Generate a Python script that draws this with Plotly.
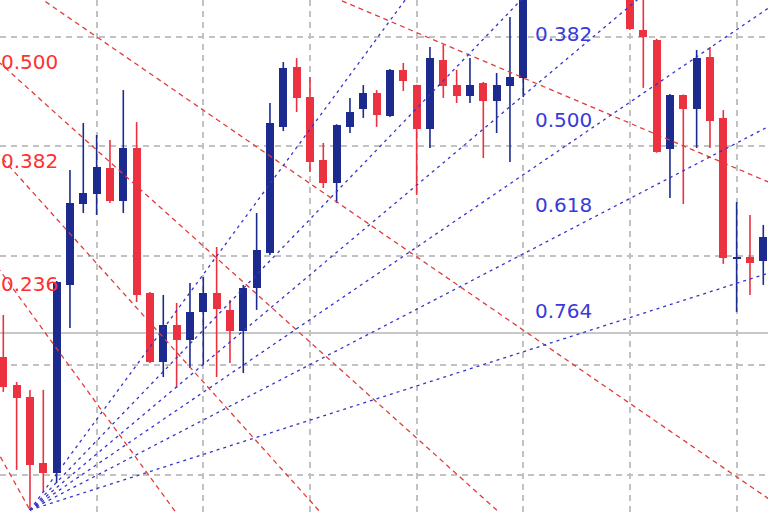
import plotly.graph_objects as go

# ---- candle data (bar index, OHLC) ----
bar_index = list(range(58))
opens = [1.09038, 1.08911, 1.08856, 1.08555, 1.08509, 1.09367, 1.09736, 1.09782, 1.09901, 1.09750,
         1.09992, 1.09330, 1.09016, 1.09184, 1.09116, 1.09244, 1.09330, 1.09253, 1.09157, 1.09353,
         1.09513, 1.10088, 1.10361, 1.10224, 1.09937, 1.09832, 1.10088, 1.10170, 1.10243, 1.10138,
         1.10348, 1.10279, 1.10079, 1.10393, 1.10279, 1.10229, 1.10288, 1.10206, 1.10275, 1.10311,
         1.10941, 1.11150, 1.11420, 1.11380, 1.11200, 1.11280, 1.11020, 1.10850, 1.10530, 1.10485,
         1.09987, 1.10234, 1.10170, 1.10407, 1.10129, 1.09485, 1.09495, 1.09476]
highs = [1.09230, 1.08924, 1.08888, 1.08888, 1.09385, 1.09891, 1.10106, 1.10051, 1.10028, 1.10256,
         1.10110, 1.09335, 1.09321, 1.09285, 1.09376, 1.09403, 1.09540, 1.09298, 1.09367, 1.09695,
         1.10197, 1.10384, 1.10402, 1.10316, 1.10015, 1.10100, 1.10220, 1.10279, 1.10256, 1.10352,
         1.10380, 1.10281, 1.10453, 1.10462, 1.10348, 1.10402, 1.10293, 1.10334, 1.10589, 1.11009,
         1.11210, 1.11480, 1.11648, 1.11450, 1.11350, 1.11320, 1.11080, 1.10900, 1.10713, 1.10490,
         1.10238, 1.10236, 1.10439, 1.10453, 1.10165, 1.09745, 1.09686, 1.09641]
lows = [1.08879, 1.08523, 1.08340, 1.08422, 1.08463, 1.09171, 1.09695, 1.09686, 1.09741, 1.09695,
        1.09289, 1.09011, 1.08947, 1.08897, 1.08988, 1.09002, 1.08947, 1.09011, 1.08965, 1.09253,
        1.09504, 1.10069, 1.10156, 1.09882, 1.09809, 1.09741, 1.10060, 1.10129, 1.10088, 1.10133,
        1.10252, 1.09777, 1.09992, 1.10220, 1.10197, 1.10197, 1.09946, 1.10060, 1.09928, 1.10224,
        1.10880, 1.11090, 1.11300, 1.11150, 1.11050, 1.10960, 1.10800, 1.10530, 1.10266, 1.09970,
        1.09764, 1.09736, 1.09992, 1.09992, 1.09463, 1.09244, 1.09321, 1.09367]
closes = [1.08901, 1.08851, 1.08546, 1.08509, 1.09380, 1.09741, 1.09787, 1.09905, 1.09750, 1.09992,
          1.09321, 1.09016, 1.09184, 1.09116, 1.09244, 1.09330, 1.09257, 1.09157, 1.09353, 1.09526,
          1.10106, 1.10357, 1.10220, 1.09928, 1.09832, 1.10097, 1.10156, 1.10243, 1.10142, 1.10348,
          1.10297, 1.10079, 1.10402, 1.10275, 1.10229, 1.10279, 1.10206, 1.10279, 1.10316, 1.10941,
          1.11150, 1.11420, 1.11380, 1.11200, 1.11280, 1.11020, 1.10850, 1.10535, 1.10498, 1.09974,
          1.10234, 1.10170, 1.10402, 1.10115, 1.09490, 1.09495, 1.09467, 1.09586]

# ---- horizontal price line ----
hline_price = 1.09148

# ---- Fibonacci fans: (bar index, price) anchors ----
red_fan_start = (-33, 1.12172)
red_fan_end = (2, 1.08340)
blue_fan_start = (2, 1.08340)
blue_fan_end = (42, 1.11648)
fan_levels = [0.0, 0.236, 0.382, 0.5, 0.618, 0.764]
level_labels = ["0.000", "0.236", "0.382", "0.500", "0.618", "0.764"]

# ---- styles ----
UP = "#1d2b8f"
DOWN = "#ec3240"
RED_LINE = "#e33b3b"
BLUE_LINE = "#3434cc"
RED_TEXT = "#ff3030"
BLUE_TEXT = "#3a3ad8"

X_RANGE = [-0.2475, 57.3525]
Y_RANGE = [1.08331, 1.10667]

fig = go.Figure()

# wicks
for col, cond in ((UP, lambda o, c: c >= o), (DOWN, lambda o, c: c < o)):
    xs, ys = [], []
    for i, o, h, l, c in zip(bar_index, opens, highs, lows, closes):
        if cond(o, c):
            xs += [i, i, None]
            ys += [l, h, None]
    fig.add_trace(go.Scatter(x=xs, y=ys, mode="lines", line=dict(color=col, width=1.6),
                             hoverinfo="skip", showlegend=False))

# bodies
for col, cond in ((UP, lambda o, c: c >= o), (DOWN, lambda o, c: c < o)):
    bx, bh, bb = [], [], []
    for i, o, c in zip(bar_index, opens, closes):
        if cond(o, c):
            bx.append(i)
            bb.append(min(o, c))
            bh.append(max(abs(c - o), 0.00006))
    fig.add_trace(go.Bar(x=bx, y=bh, base=bb, width=0.6, marker=dict(color=col, line=dict(width=0)),
                         hoverinfo="skip", showlegend=False))

# fans
annotations = []
x_far = 60
for start, end, lcol, tcol, dash in ((red_fan_start, red_fan_end, RED_LINE, RED_TEXT, "5px,4px"),
                                     (blue_fan_start, blue_fan_end, BLUE_LINE, BLUE_TEXT, "3px,4px")):
    (x0, p0), (x1, p1) = start, end
    for lev, lab in zip(fan_levels, level_labels):
        pl = p1 + lev * (p0 - p1)
        slope = (pl - p0) / (x1 - x0)
        y_far = p0 + slope * (x_far - x0)
        fig.add_trace(go.Scatter(x=[x0, x_far], y=[p0, y_far], mode="lines",
                                 line=dict(color=lcol, width=1.3, dash=dash),
                                 hoverinfo="skip", showlegend=False))
        if lev > 0 and Y_RANGE[0] < pl < Y_RANGE[1]:
            annotations.append(dict(x=x1, y=pl, xref="x", yref="y", text=lab, showarrow=False,
                                    xanchor="center", yanchor="middle", yshift=28,
                                    font=dict(family="DejaVu Sans", size=20, color=tcol)))

fig.add_shape(type="line", xref="paper", x0=0, x1=1, yref="y", y0=hline_price, y1=hline_price,
              line=dict(color="#c8c8c8", width=2), layer="below")

fig.update_layout(
    width=768, height=512,
    margin=dict(l=0, r=0, t=0, b=0),
    paper_bgcolor="white", plot_bgcolor="white",
    barmode="overlay", bargap=0,
    showlegend=False,
    annotations=annotations,
    xaxis=dict(range=X_RANGE, showticklabels=False, ticks="", zeroline=False,
               showgrid=True, tick0=7, dtick=8, gridcolor="#c2c2c2", gridwidth=1.5,
               griddash="6px,5px", fixedrange=True),
    yaxis=dict(range=Y_RANGE, showticklabels=False, ticks="", zeroline=False,
               showgrid=True, tick0=1.085, dtick=0.005, gridcolor="#c2c2c2", gridwidth=1.5,
               griddash="6px,5px", fixedrange=True),
)

fig.write_html("out.html", config={"displayModeBar": False},
               post_script="document.body.style.margin='0';document.body.style.overflow='hidden';")
